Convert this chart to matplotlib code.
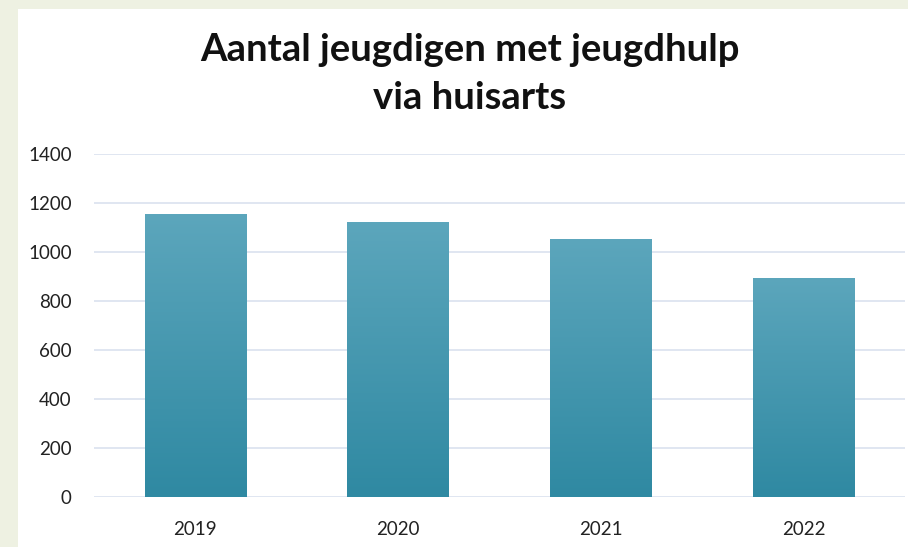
import matplotlib.pyplot as plt
import numpy as np
from matplotlib.patches import Rectangle
from matplotlib.colors import LinearSegmentedColormap

# data
jaren = ['2019', '2020', '2021', '2022']
aantal = [1155, 1122, 1053, 894]
yticks = [0, 200, 400, 600, 800, 1000, 1200, 1400]

plt.rcParams['font.family'] = ['Lato', 'DejaVu Sans']

fig = plt.figure(figsize=(9.08, 5.47), dpi=100)
fig.patch.set_facecolor('#eef1e2')
# wit paneel
fig.patches.append(Rectangle((18 / 908, 0), 1, 1 - 9 / 547, transform=fig.transFigure,
                             facecolor='white', edgecolor='none', zorder=-5))

ax = fig.add_axes([94 / 908, 50 / 547, 811 / 908, 343 / 547], zorder=2)
ax.set_facecolor('none')
x = np.arange(len(jaren))
bars = ax.bar(x, aantal, width=0.5, color='none', edgecolor='none', zorder=3)

# verticale gradient per balk
grad = np.linspace(0, 1, 256).reshape(-1, 1)
cmap = LinearSegmentedColormap.from_list('blauw', ['#2f89a2', '#5ca6bc'])
for b in bars:
    x0, w, h = b.get_x(), b.get_width(), b.get_height()
    im = ax.imshow(grad, cmap=cmap, extent=[x0, x0 + w, 0, h], origin='lower',
                   aspect='auto', zorder=3)
    im.set_clip_path(b)

ax.set_xlim(-0.5, len(jaren) - 0.5)
ax.set_ylim(0, 1400)
ax.set_yticks(yticks)
ax.set_xticks(x)
ax.set_xticklabels(jaren)
ax.grid(axis='y', color='#dae2ef', linewidth=1.2, zorder=0)
for s in ax.spines.values():
    s.set_visible(False)
ax.tick_params(length=0, labelsize=13.5, colors='#222222')
ax.tick_params(axis='y', pad=16)
ax.tick_params(axis='x', pad=17)

fig.text(470 / 908, 1 - 74 / 547, 'Aantal jeugdigen met jeugdhulp\nvia huisarts',
         ha='center', va='center', fontsize=27.5, fontweight='bold', color='#111111',
         linespacing=1.5, zorder=5)

fig.savefig('out.png', dpi=100, facecolor=fig.get_facecolor())
